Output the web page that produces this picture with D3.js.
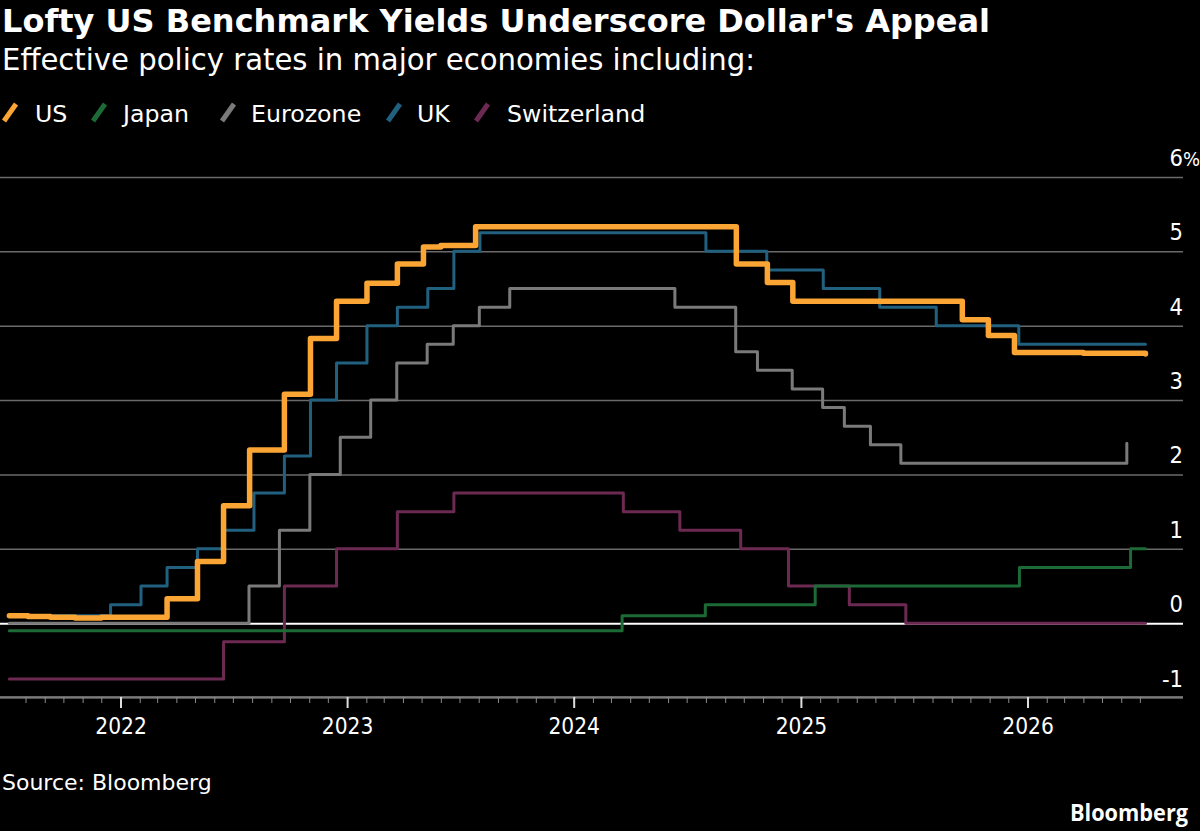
<!DOCTYPE html>
<html>
<head>
<meta charset="utf-8">
<script src="https://cdnjs.cloudflare.com/ajax/libs/d3/7.8.5/d3.min.js"></script>
<style>
  html, body { margin: 0; padding: 0; background: #000; }
  svg { display: block; }
  text { font-family: "DejaVu Sans", sans-serif; fill: #fff; }
  .cond { font-family: "DejaVu Sans Condensed", "DejaVu Sans", sans-serif; font-stretch: condensed; }
</style>
</head>
<body>
<div id="chart"></div>
<script>
// step data: [date of change, effective rate %]
var usRates = [
  ["2021-07-06", 0.10], ["2021-08-05", 0.09], ["2021-09-10", 0.08], ["2021-10-20", 0.07], ["2021-12-01", 0.08],
  ["2022-03-17", 0.33], ["2022-05-05", 0.83], ["2022-06-16", 1.58], ["2022-07-28", 2.33], ["2022-09-22", 3.08],
  ["2022-11-03", 3.83], ["2022-12-15", 4.33], ["2023-02-02", 4.57], ["2023-03-23", 4.83], ["2023-05-04", 5.06],
  ["2023-06-01", 5.08], ["2023-07-27", 5.33], ["2024-09-19", 4.83], ["2024-11-08", 4.58], ["2024-12-19", 4.33],
  ["2025-09-18", 4.08], ["2025-10-30", 3.87], ["2025-12-11", 3.64], ["2026-04-01", 3.63], ["2026-07-10", 3.62]
];
var japanRates = [
  ["2021-07-06", -0.10], ["2024-03-19", 0.10], ["2024-07-31", 0.25], ["2025-01-24", 0.50],
  ["2025-12-19", 0.75], ["2026-06-16", 1.00], ["2026-07-10", 1.00]
];
var eurozoneRates = [
  ["2021-07-06", 0.00], ["2022-07-27", 0.50], ["2022-09-14", 1.25], ["2022-11-02", 2.00], ["2022-12-21", 2.50],
  ["2023-02-08", 3.00], ["2023-03-22", 3.50], ["2023-05-10", 3.75], ["2023-06-21", 4.00], ["2023-08-02", 4.25],
  ["2023-09-20", 4.50], ["2024-06-12", 4.25], ["2024-09-18", 3.65], ["2024-10-23", 3.40], ["2024-12-18", 3.15],
  ["2025-02-05", 2.90], ["2025-03-12", 2.65], ["2025-04-23", 2.40], ["2025-06-11", 2.15], ["2026-06-10", 2.42]
];
var ukRates = [
  ["2021-07-06", 0.10], ["2021-12-16", 0.25], ["2022-02-03", 0.50], ["2022-03-17", 0.75], ["2022-05-05", 1.00],
  ["2022-06-16", 1.25], ["2022-08-04", 1.75], ["2022-09-22", 2.25], ["2022-11-03", 3.00], ["2022-12-15", 3.50],
  ["2023-02-02", 4.00], ["2023-03-23", 4.25], ["2023-05-11", 4.50], ["2023-06-22", 5.00], ["2023-08-03", 5.25],
  ["2024-08-01", 5.00], ["2024-11-07", 4.75], ["2025-02-06", 4.50], ["2025-05-08", 4.25], ["2025-08-07", 4.00],
  ["2025-12-18", 3.75], ["2026-07-10", 3.75]
];
var swissRates = [
  ["2021-07-06", -0.75], ["2022-06-16", -0.25], ["2022-09-22", 0.50], ["2022-12-15", 1.00], ["2023-03-23", 1.50],
  ["2023-06-22", 1.75], ["2024-03-21", 1.50], ["2024-06-20", 1.25], ["2024-09-26", 1.00], ["2024-12-12", 0.50],
  ["2025-03-20", 0.25], ["2025-06-19", 0.00], ["2026-07-10", 0.00]
];

var seriesNames = ["US", "Japan", "Eurozone", "UK", "Switzerland"];
var seriesColors = ["#fba535", "#1c6b36", "#7a7a7a", "#22607f", "#6c2a52"];
var yTicks = [-1, 0, 1, 2, 3, 4, 5, 6];
var yearTicks = ["2022", "2023", "2024", "2025", "2026"];

var width = 1200, height = 831;
var parse = d3.utcParse("%Y-%m-%d");

var svg = d3.select("#chart").append("svg")
  .attr("width", width).attr("height", height)
  .style("background", "#000");

var x = d3.scaleUtc()
  .domain([parse("2022-01-01"), parse("2026-01-01")])
  .range([120.5, 1027.5]);
var y = d3.scaleLinear().domain([-1, 6]).range([697.6, 177]);

// titles
svg.append("text").attr("class", "cond").attr("x", 2).attr("y", 32)
  .attr("font-size", 32).attr("font-weight", "bold")
  .attr("textLength", 988).attr("lengthAdjust", "spacingAndGlyphs")
  .text("Lofty US Benchmark Yields Underscore Dollar's Appeal");
svg.append("text").attr("class", "cond").attr("x", 2).attr("y", 70)
  .attr("font-size", 31)
  .attr("textLength", 753).attr("lengthAdjust", "spacingAndGlyphs")
  .text("Effective policy rates in major economies including:");

// legend
var legendX = [0, 89, 218, 384, 472];
var legendTextX = [35, 123, 251, 417, 507];
var legend = svg.append("g").selectAll("g").data(seriesNames).join("g");
legend.append("line")
  .attr("x1", function(d, i) { return legendX[i] + 4; }).attr("y1", 121)
  .attr("x2", function(d, i) { return legendX[i] + 16; }).attr("y2", 104)
  .attr("stroke", function(d, i) { return seriesColors[i]; })
  .attr("stroke-width", 5);
legend.append("text")
  .attr("x", function(d, i) { return legendTextX[i]; }).attr("y", 122)
  .attr("font-size", 23.7).text(function(d) { return d; });

// y grid + labels (numbers right-aligned, % hangs outside)
var yAxis = svg.append("g")
  .call(d3.axisRight(y).tickValues(yTicks).tickSize(1183)
    .tickFormat(function(d) { return String(d); }));
yAxis.select(".domain").remove();
yAxis.selectAll(".tick line")
  .attr("stroke", function(d) { return d === 0 ? "#fff" : "#6a6a6a"; })
  .attr("stroke-width", function(d) { return d === 0 ? 2 : 1.5; });
yAxis.selectAll(".tick text")
  .attr("class", "cond")
  .attr("x", 1183).attr("dy", -11.5)
  .attr("text-anchor", "end")
  .attr("font-size", 23.5).attr("fill", "#fff")
  .style("font-family", null);
yAxis.selectAll(".tick").filter(function(d) { return d === 6; })
  .append("text").attr("class", "cond")
  .attr("x", 1183).attr("dy", -11.5)
  .attr("font-size", 20).attr("fill", "#fff")
  .text("%");

// x axis
var months = d3.utcMonth.range(parse("2021-08-01"), parse("2026-07-02"));
var xMinor = svg.append("g").attr("transform", "translate(0,697)")
  .call(d3.axisBottom(x).tickValues(months).tickSize(6).tickFormat(""));
xMinor.select(".domain").remove();
xMinor.selectAll(".tick line").attr("stroke", "#8a8a8a").attr("stroke-width", 1);
svg.append("line").attr("x1", 0).attr("x2", 1183).attr("y1", 697).attr("y2", 697)
  .attr("stroke", "#8a8a8a").attr("stroke-width", 1.5);

var years = yearTicks.map(function(s) { return parse(s + "-01-01"); });
var xMajor = svg.append("g").attr("transform", "translate(0,697)")
  .call(d3.axisBottom(x).tickValues(years).tickSize(11)
    .tickFormat(d3.utcFormat("%Y")));
xMajor.select(".domain").remove();
xMajor.selectAll(".tick line").attr("stroke", "#ddd").attr("stroke-width", 2);
xMajor.selectAll(".tick text").attr("class", "cond").attr("y", 37).attr("dy", 0)
  .attr("font-size", 22.5).attr("fill", "#fff").style("font-family", null);

// series lines
var line = d3.line()
  .x(function(d) { return x(parse(d[0])); })
  .y(function(d) { return y(d[1]); })
  .curve(d3.curveStepAfter);

var drawOrder = [
  { data: swissRates, i: 4, w: 3 },
  { data: ukRates, i: 3, w: 3 },
  { data: eurozoneRates, i: 2, w: 3 },
  { data: japanRates, i: 1, w: 3 },
  { data: usRates, i: 0, w: 5.5 }
];
svg.append("g").selectAll("path").data(drawOrder).join("path")
  .attr("d", function(s) { return line(s.data); })
  .attr("fill", "none")
  .attr("stroke", function(s) { return seriesColors[s.i]; })
  .attr("stroke-width", function(s) { return s.w; })
  .attr("stroke-linejoin", "round")
  .attr("stroke-linecap", "round");

// footer
svg.append("text").attr("x", 2).attr("y", 790)
  .attr("font-size", 22).text("Source: Bloomberg");
svg.append("text").attr("x", 1188).attr("y", 821)
  .attr("text-anchor", "end").attr("font-size", 23).attr("font-weight", "bold")
  .attr("textLength", 118).attr("lengthAdjust", "spacingAndGlyphs")
  .style("font-family", "'Open Sans', 'DejaVu Sans', sans-serif")
  .text("Bloomberg");
</script>
</body>
</html>
